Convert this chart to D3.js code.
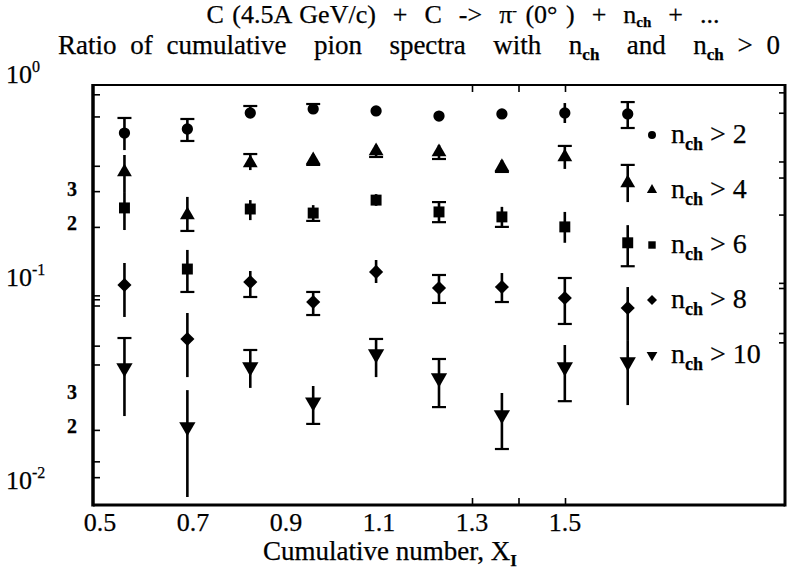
<!DOCTYPE html>
<html>
<head>
<meta charset="utf-8">
<script src="https://cdn.jsdelivr.net/npm/d3@7"></script>
<style>
body { margin: 0; background: #fff; }
text { font-family: "Liberation Serif", "Times New Roman", serif; fill: #000; white-space: pre; stroke: #000; stroke-width: 0.25px; }
</style>
</head>
<body>
<div id="chart"></div>
<script>
var svgWidth = 789;
var svgHeight = 575;

// cumulative number X_I of each column
var xValues = [0.55, 0.65, 0.75, 0.85, 0.95, 1.05, 1.15, 1.25, 1.35];

// ratio values and error bar ends, one set per n_ch cut
var nch2   = [0.580, 0.607, 0.728, 0.762, 0.745, 0.703, 0.720, 0.728, 0.720];
var nch2Hi = [0.688, 0.680, 0.788, 0.806, 0.788, 0.745, 0.762, 0.815, 0.824];
var nch2Lo = [0.478, 0.530, 0.688, 0.728, 0.703, 0.665, 0.680, 0.650, 0.614];
var nch2Caps = ["t", "tb", "t", "t", "", "", "", "", "tb"];

var nch4   = [0.373, 0.229, 0.413, 0.427, 0.473, 0.468, 0.395, 0.442, 0.329];
var nch4Hi = [0.452, 0.281, 0.457, 0.457, 0.506, 0.506, 0.427, 0.501, 0.404];
var nch4Lo = [0.297, 0.191, 0.381, 0.404, 0.442, 0.432, 0.373, 0.386, 0.265];
var nch4Caps = ["", "b", "t", "b", "b", "b", "b", "t", "t"];

var nch6   = [0.248, 0.124, 0.245, 0.234, 0.271, 0.237, 0.224, 0.200, 0.167];
var nch6Hi = [0.297, 0.154, 0.271, 0.256, 0.290, 0.265, 0.251, 0.237, 0.204];
var nch6Lo = [0.193, 0.0956, 0.216, 0.214, 0.254, 0.211, 0.200, 0.167, 0.128];
var nch6Caps = ["", "b", "", "b", "", "tb", "b", "", "b"];

var nch8   = [0.1034, 0.0561, 0.1070, 0.0853, 0.120, 0.100, 0.1011, 0.0893, 0.0797];
var nch8Hi = [0.1328, 0.0753, 0.1213, 0.0956, 0.1374, 0.1159, 0.1185, 0.112, 0.1011];
var nch8Lo = [0.0720, 0.0364, 0.0903, 0.0736, 0.1058, 0.0844, 0.0853, 0.0665, 0.0554];
var nch8Caps = ["", "", "b", "tb", "", "tb", "b", "tb", ""];

var nch10   = [0.0404, 0.0207, 0.0408, 0.0274, 0.0473, 0.0360, 0.0237, 0.0408, 0.0432];
var nch10Hi = [0.0567, 0.0314, 0.0495, 0.0329, 0.0561, 0.0447, 0.0304, 0.0524, 0.0554];
var nch10Lo = [0.0234, 0.00934, 0.0322, 0.0214, 0.0364, 0.0259, 0.0161, 0.0277, 0.0265];
var nch10Caps = ["t", "", "t", "b", "t", "tb", "b", "b", ""];

var cuts = [2, 4, 6, 8, 10];

// axis ticks and labels
var xTickLabels = [0.5, 0.7, 0.9, 1.1, 1.3, 1.5];
var xFrameTicks = [1.3, 1.4, 1.5];
var leftTicks = [0.9, 0.7, 0.4, 0.3, 0.2, 0.092, 0.088, 0.082, 0.052, 0.042, 0.02, 0.014, 0.0117];
var rightTicks = [0.92, 0.73, 0.42, 0.35, 0.23, 0.106, 0.1, 0.06, 0.054];
var decadeLabels = [0, -1, -2];
var minorLabels = [0.3, 0.2, 0.03, 0.02];

var box = { left: 93, right: 785, top: 85, bottom: 505 };

var svg = d3.select("#chart")
  .append("svg")
  .attr("width", svgWidth)
  .attr("height", svgHeight)
  .style("background", "#fff");

var xScale = d3.scaleLinear().domain([0.5, 1.6]).range([box.left, box.right]);
// the printed x labels sit on their own (narrower) spacing
var xLabelScale = d3.scaleLinear().domain([0.5, 1.5]).range([100, 565]);
var yScale = d3.scaleLog().domain([Math.pow(10, -420 / 203), 1]).range([box.bottom, box.top]);

// ticks pointing into the box
function noDomain(g) {
  g.select(".domain").remove();
  g.selectAll(".tick line").attr("stroke", "#000").attr("stroke-width", 1.6);
}
svg.append("g").attr("transform", `translate(${box.left},0)`)
  .call(d3.axisRight(yScale).tickValues(leftTicks).tickSize(7).tickFormat(""))
  .call(noDomain);
svg.append("g").attr("transform", `translate(${box.right},0)`)
  .call(d3.axisLeft(yScale).tickValues(rightTicks).tickSize(6).tickFormat(""))
  .call(noDomain);
svg.append("g").attr("transform", `translate(0,${box.top})`)
  .call(d3.axisBottom(xLabelScale).tickValues(xFrameTicks).tickSize(7).tickFormat(""))
  .call(noDomain);
svg.append("g").attr("transform", `translate(0,${box.bottom})`)
  .call(d3.axisTop(xLabelScale).tickValues(xFrameTicks).tickSize(7).tickFormat(""))
  .call(noDomain);

// frame
var frame = svg.append("g").attr("stroke", "#000").attr("fill", "none");
frame.append("line").attr("x1", box.left).attr("x2", box.left).attr("y1", box.top - 1).attr("y2", box.bottom + 1.5).attr("stroke-width", 3.5);
frame.append("line").attr("x1", box.right).attr("x2", box.right).attr("y1", box.top - 1).attr("y2", box.bottom + 1.5).attr("stroke-width", 3);
frame.append("line").attr("x1", box.left).attr("x2", box.right).attr("y1", box.top).attr("y2", box.top).attr("stroke-width", 2.2);
frame.append("line").attr("x1", box.left).attr("x2", box.right).attr("y1", box.bottom).attr("y2", box.bottom).attr("stroke-width", 2.8);

// y labels
decadeLabels.forEach(function(p) {
  var t = svg.append("text")
    .attr("x", 6)
    .attr("y", yScale(Math.pow(10, p)) - 2)
    .attr("font-size", 26);
  t.append("tspan").text("10");
  t.append("tspan").attr("dy", -11).attr("font-size", 16).text(p === 0 ? "0" : "-" + Math.abs(p));
});
svg.selectAll(".minorLabel")
  .data(minorLabels)
  .enter()
  .append("text")
  .attr("x", 72)
  .attr("y", (d, i) => yScale(d) + (i % 2 ? 3 : 5))
  .attr("text-anchor", "middle")
  .attr("font-size", 20)
  .attr("font-weight", "bold")
  .text(d => String(d).slice(-1));

// x labels
svg.selectAll(".xLabel")
  .data(xTickLabels)
  .enter()
  .append("text")
  .attr("x", d => xLabelScale(d))
  .attr("y", 531)
  .attr("text-anchor", "middle")
  .attr("font-size", 26)
  .text(d => d.toFixed(1));

var xTitle = svg.append("text")
  .attr("x", 390)
  .attr("y", 560)
  .attr("text-anchor", "middle")
  .attr("font-size", 27);
xTitle.append("tspan").text("Cumulative number, X");
xTitle.append("tspan").attr("dy", 6).attr("font-size", 17).attr("font-weight", "bold").text("I");

// titles
var title1 = svg.append("text")
  .attr("x", 463).attr("y", 23)
  .attr("text-anchor", "middle")
  .attr("font-size", 26)
  .style("word-spacing", "2px");
title1.append("tspan").text("C (4.5A GeV/c)  +  C  ->  \u03c0");
title1.append("tspan").attr("dy", -8).attr("font-size", 14).text("-");
title1.append("tspan").attr("dy", 8).text(" (0\u00b0 )  +  n");
title1.append("tspan").attr("dy", 4).attr("font-size", 15).attr("font-weight", "bold").text("ch");
title1.append("tspan").attr("dy", -4).text("  +  ...");

var title2 = svg.append("text")
  .attr("x", 419).attr("y", 54)
  .attr("text-anchor", "middle")
  .attr("font-size", 27)
  .style("word-spacing", "7px");
title2.append("tspan").text("Ratio of cumulative  pion  spectra  with  n");
title2.append("tspan").attr("dy", 6).attr("font-size", 17).attr("font-weight", "bold").text("ch");
title2.append("tspan").attr("dy", -6).text("  and  n");
title2.append("tspan").attr("dy", 6).attr("font-size", 17).attr("font-weight", "bold").text("ch");
title2.append("tspan").attr("dy", -6).text(" > 0");

// series
var seriesList = [
  { vals: nch2, hi: nch2Hi, lo: nch2Lo, caps: nch2Caps, sym: d3.symbolCircle, size: 100, rot: 0, lsize: 50 },
  { vals: nch4, hi: nch4Hi, lo: nch4Lo, caps: nch4Caps, sym: d3.symbolTriangle, size: 95, rot: 0, lsize: 45 },
  { vals: nch6, hi: nch6Hi, lo: nch6Lo, caps: nch6Caps, sym: d3.symbolSquare, size: 120, rot: 0, lsize: 55 },
  { vals: nch8, hi: nch8Hi, lo: nch8Lo, caps: nch8Caps, sym: d3.symbolSquare, size: 100, rot: 45, lsize: 50 },
  { vals: nch10, hi: nch10Hi, lo: nch10Lo, caps: nch10Caps, sym: d3.symbolTriangle, size: 115, rot: 180, lsize: 50 }
];

var chartGroup = svg.append("g");
seriesList.forEach(function(s) {
  var pts = xValues.map(function(x, i) {
    return { x: x, y: s.vals[i], hi: s.hi[i], lo: s.lo[i], caps: s.caps[i] };
  });
  var g = chartGroup.append("g");
  g.selectAll(".bar")
    .data(pts)
    .enter()
    .append("line")
    .attr("x1", d => xScale(d.x))
    .attr("x2", d => xScale(d.x))
    .attr("y1", d => yScale(d.hi))
    .attr("y2", d => yScale(d.lo))
    .attr("stroke", "#000")
    .attr("stroke-width", 2.6);
  g.selectAll(".capTop")
    .data(pts.filter(d => d.caps.indexOf("t") >= 0))
    .enter()
    .append("line")
    .attr("x1", d => xScale(d.x) - 7)
    .attr("x2", d => xScale(d.x) + 7)
    .attr("y1", d => yScale(d.hi))
    .attr("y2", d => yScale(d.hi))
    .attr("stroke", "#000")
    .attr("stroke-width", 2.2);
  g.selectAll(".capBottom")
    .data(pts.filter(d => d.caps.indexOf("b") >= 0))
    .enter()
    .append("line")
    .attr("x1", d => xScale(d.x) - 7)
    .attr("x2", d => xScale(d.x) + 7)
    .attr("y1", d => yScale(d.lo))
    .attr("y2", d => yScale(d.lo))
    .attr("stroke", "#000")
    .attr("stroke-width", 2.2);
  g.selectAll(".marker")
    .data(pts)
    .enter()
    .append("path")
    .attr("d", d3.symbol().type(s.sym).size(s.size))
    .attr("transform", d => `translate(${xScale(d.x)},${yScale(d.y)}) rotate(${s.rot})`)
    .attr("fill", "#000");
});

// legend
var legend = svg.append("g");
cuts.forEach(function(c, i) {
  var s = seriesList[i];
  var cy = 135 + i * 55;
  legend.append("path")
    .attr("d", d3.symbol().type(s.sym).size(s.lsize))
    .attr("transform", `translate(652,${cy}) rotate(${s.rot})`)
    .attr("fill", "#000");
  var t = legend.append("text")
    .attr("x", 671)
    .attr("y", cy + 8)
    .attr("font-size", 28);
  t.append("tspan").text("n");
  t.append("tspan").attr("dy", 7).attr("font-size", 18).attr("font-weight", "bold").text("ch");
  t.append("tspan").attr("dy", -7).text(" > " + c);
});
</script>
</body>
</html>
